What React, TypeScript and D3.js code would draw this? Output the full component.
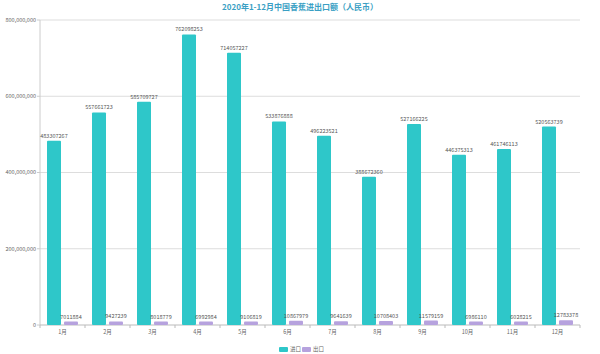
import * as d3 from "d3";

const months = ["1月", "2月", "3月", "4月", "5月", "6月", "7月", "8月", "9月", "10月", "11月", "12月"];
const imports = [483307267, 557661723, 585709727, 762098253, 714057227, 533876888, 496223521, 388672360, 527166225, 446375313, 461746113, 520563739];
const exports = [7011884, 9427239, 8018779, 6992984, 9106819, 10867979, 9641639, 10708403, 11579159, 6986110, 6028215, 12783378];
const yTicks = [0, 200000000, 400000000, 600000000, 800000000];
const seriesNames = ["进口", "出口"];
const colors = ["#2ec7c9", "#b6a2de"];

export default function App() {
  const width = 600;
  const height = 354;
  const margin = { top: 20, right: 20, bottom: 29, left: 40 };

  const x = d3
    .scaleBand<string>()
    .domain(months)
    .range([margin.left, width - margin.right]);

  const y = d3
    .scaleLinear()
    .domain([0, 800000000])
    .range([height - margin.bottom, margin.top]);

  const barW = 14;
  const gap = 3;
  const fmt = d3.format(",");
  const font = "'Noto Sans CJK SC', 'Noto Sans', sans-serif";

  return (
    <svg
      width={width}
      height={height}
      style={{ position: "absolute", left: 0, top: 0, background: "#fff" }}
      fontFamily={font}
    >
      <text x={width / 2} y={10} textAnchor="middle" fill="#3a9fc4" fontSize={8} fontWeight="bold">
        2020年1-12月中国香蕉进出口额（人民币）
      </text>

      {/* grid + y labels */}
      {yTicks.map((t) => (
        <g key={t}>
          {t > 0 && (
            <line x1={margin.left} x2={width - margin.right} y1={y(t)} y2={y(t)} stroke="#ddd" strokeWidth={1} />
          )}
          <line x1={margin.left - 3} x2={margin.left} y1={y(t)} y2={y(t)} stroke="#ccc" />
          <text x={margin.left - 4} y={y(t)} dy="0.35em" textAnchor="end" fill="#666" fontSize={5.5}>
            {fmt(t)}
          </text>
        </g>
      ))}
      <line x1={margin.left} x2={margin.left} y1={margin.top} y2={y(0)} stroke="#ccc" />
      <line x1={margin.left} x2={width - margin.right} y1={y(0)} y2={y(0)} stroke="#bbb" />
      {months.map((m) => (
        <line key={m} x1={x(m)!} x2={x(m)!} y1={y(0)} y2={y(0) + 3} stroke="#bbb" />
      ))}
      <line x1={width - margin.right} x2={width - margin.right} y1={y(0)} y2={y(0) + 3} stroke="#bbb" />

      {months.map((m, i) => {
        const cx = x(m)! + x.bandwidth() / 2;
        const x1 = cx - gap / 2 - barW;
        const x2 = cx + gap / 2;
        const ey = Math.min(y(exports[i]), y(0) - 3.5);
        return (
          <g key={m}>
            <rect x={x1} y={y(imports[i])} width={barW} height={y(0) - y(imports[i])} fill={colors[0]} rx={1} />
            <rect x={x2} y={ey} width={barW} height={y(0) - ey} fill={colors[1]} rx={1} />
            <text x={x1 + barW / 2} y={y(imports[i]) - 3} textAnchor="middle" fill="#555" fontSize={5.5}>
              {imports[i]}
            </text>
            <text x={x2 + barW / 2} y={ey - 3} textAnchor="middle" fill="#555" fontSize={5.5}>
              {exports[i]}
            </text>
            <text x={cx} y={y(0) + 9} textAnchor="middle" fill="#666" fontSize={5.5}>
              {m}
            </text>
          </g>
        );
      })}

      {/* legend */}
      {seriesNames.map((s, i) => (
        <g key={s} transform={`translate(${279 + i * 23}, 347)`}>
          <rect x={0} y={0} width={9} height={5} rx={1} fill={colors[i]} />
          <text x={11} y={2.5} dy="0.35em" fill="#666" fontSize={5.5}>
            {s}
          </text>
        </g>
      ))}
    </svg>
  );
}
